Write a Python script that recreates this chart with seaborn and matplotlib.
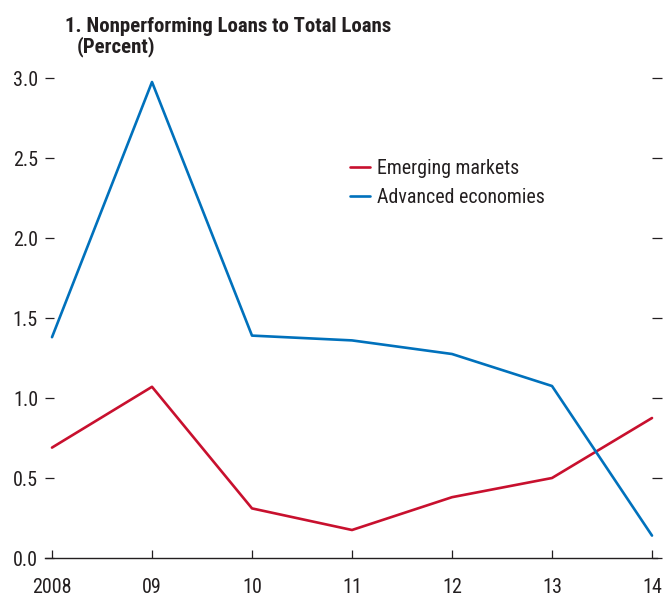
import matplotlib
matplotlib.use("Agg")
import matplotlib.pyplot as plt
import seaborn as sns
import pandas as pd

years = [2008, 2009, 2010, 2011, 2012, 2013, 2014]
year_labels = ["2008", "09", "10", "11", "12", "13", "14"]
emerging = [0.69, 1.07, 0.31, 0.175, 0.38, 0.50, 0.875]
advanced = [1.38, 2.975, 1.39, 1.36, 1.275, 1.075, 0.14]
series_names = ["Emerging markets", "Advanced economies"]
colors = ["#C8102E", "#0071BC"]
yticks = [0.0, 0.5, 1.0, 1.5, 2.0, 2.5, 3.0]
ytick_labels = ["0.0", "0.5", "1.0", "1.5", "2.0", "2.5", "3.0"]
title_line1 = "1. Nonperforming Loans to Total Loans"
title_line2 = "(Percent)"

sns.set_theme(style="white")
plt.rcParams["font.family"] = ["Roboto Condensed", "DejaVu Sans"]

df = pd.DataFrame({
    "year": years * 2,
    "value": emerging + advanced,
    "series": [series_names[0]] * len(years) + [series_names[1]] * len(years),
})

INK = "#231F20"
W, H = 663, 597
fig = plt.figure(figsize=(W / 100, H / 100), dpi=100)
ax = fig.add_axes([45 / W, 1 - 558 / H, 612 / W, 480 / H])

sns.lineplot(data=df, x="year", y="value", hue="series", palette=colors,
             linewidth=1.9, ax=ax, legend=True)
for ln in ax.lines:
    ln.set_clip_on(False)

ax.set_xlim(2007.93, 2014.05)
ax.set_ylim(0, 3.0)
ax.set_xticks(years)
ax.set_xticklabels(year_labels)
ax.set_yticks(yticks)
ax.set_yticklabels(ytick_labels)
ax.set_xlabel("")
ax.set_ylabel("")

for s in ["top", "left", "right"]:
    ax.spines[s].set_visible(False)
ax.spines["bottom"].set_color(INK)
ax.spines["bottom"].set_linewidth(1.0)

ax.tick_params(axis="x", direction="in", length=6, width=0.9, color=INK,
               labelsize=14.5, labelcolor=INK, pad=14.5, bottom=True)
ax.tick_params(axis="y", direction="in", length=6.5, width=0.9, color=INK,
               labelsize=14.5, labelcolor=INK, left=True, right=True,
               labelleft=True, labelright=False, pad=5)
for t in ax.yaxis.get_major_ticks():
    t.tick2line.set_marker("_")

leg = ax.legend(title=None, loc="upper left",
                bbox_to_anchor=((350 - 45) / 612, (558 - 159) / 480),
                frameon=False, fontsize=14.3, handlelength=1.0, handletextpad=0.36,
                labelspacing=0.5, borderaxespad=0, borderpad=0)
for txt in leg.get_texts():
    txt.set_color(INK)
for h in leg.get_lines():
    h.set_linewidth(1.9)

fig.text(65 / W, 1 - 27 / H, title_line1,
         fontsize=15, fontweight="bold", color=INK, ha="left", va="center")
fig.text(77 / W, 1 - 47 / H, title_line2,
         fontsize=15, fontweight="bold", color=INK, ha="left", va="center")

fig.savefig("out.png", dpi=100)
